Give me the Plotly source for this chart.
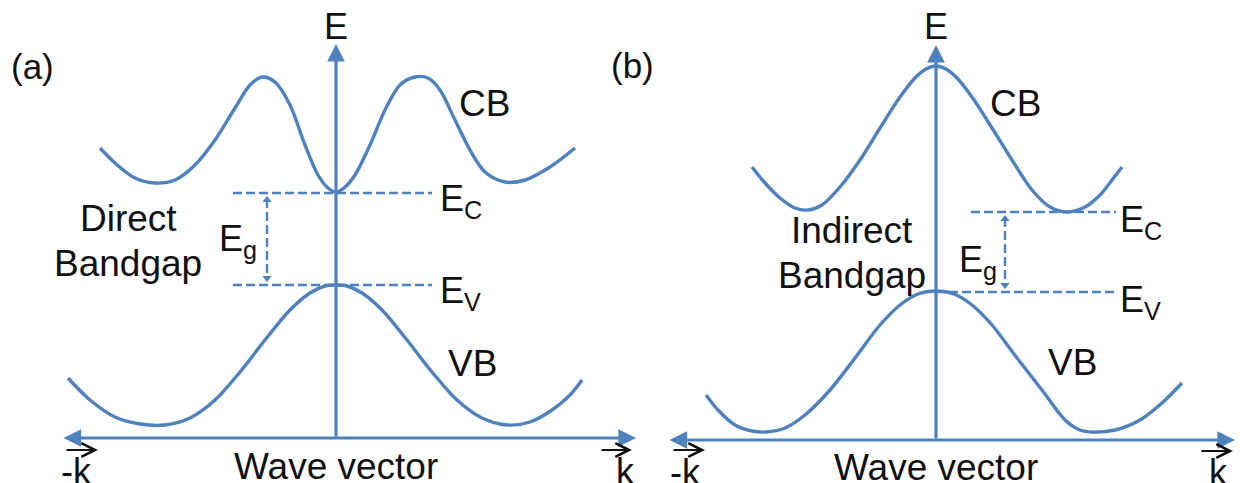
import plotly.graph_objects as go

BLUE = "#4F81BD"
TXT = "#111111"
FONT = "Liberation Sans, Arial, sans-serif"

# ---- Panel (a): direct bandgap (k relative to E axis, E relative to k axis) ----
cb_a_k = [-236, -221, -201, -181, -161, -141, -121, -101, -86, -74, -61, -46, -31, -18, -8, 0,
          8, 19, 34, 49, 64, 79, 92, 104, 119, 134, 149, 169, 189, 214, 239]
cb_a_E = [290, 275, 260, 255, 258, 273, 298, 330, 353, 361, 356, 333, 293, 263, 250, 246,
          250, 263, 293, 328, 353, 361, 360, 348, 318, 288, 266, 256, 258, 271, 290]
vb_a_k = [-268, -246, -221, -196, -171, -146, -121, -96, -71, -46, -26, -11, 0,
          11, 26, 46, 71, 96, 121, 146, 171, 194, 216, 234, 246]
vb_a_E = [60, 38, 21, 14, 13, 20, 38, 66, 98, 128, 145, 152, 153,
          152, 145, 128, 98, 66, 38, 20, 13, 16, 28, 43, 58]
ec_a = 245
ev_a = 153
ec_a_span = [-103, 96]
ev_a_span = [-103, 96]
eg_a_k = -69

# ---- Panel (b): indirect bandgap ----
cb_b_k = [-184, -171, -156, -141, -128, -114, -96, -76, -56, -36, -21, -10, 0,
          10, 21, 36, 56, 76, 96, 114, 131, 149, 164, 176, 186]
cb_b_E = [273, 257, 242, 232, 230, 235, 253, 280, 312, 343, 362, 371, 374,
          371, 362, 343, 312, 280, 250, 233, 228, 233, 245, 260, 273]
vb_b_k = [-230, -218, -201, -184, -170, -151, -131, -106, -81, -56, -36, -18, 0,
          18, 36, 56, 81, 106, 129, 144, 156, 179, 204, 226, 246]
vb_b_E = [45, 30, 15, 9, 8, 12, 25, 50, 82, 115, 135, 146, 149,
          146, 135, 115, 82, 50, 20, 10, 8, 10, 20, 37, 57]
ec_b = 228
ev_b = 148
ec_b_span = [35, 180]
ev_b_span = [0, 179]
eg_b_k = 69

fig = go.Figure()
DASH = "9px,4px"

def panel(xa, ya, cbk, cbE, vbk, vbE, ec, ev, ecs, evs, egk):
    for kk, ee in ((cbk, cbE), (vbk, vbE)):
        fig.add_trace(go.Scatter(x=kk, y=ee, mode="lines", xaxis=xa, yaxis=ya,
                                 line=dict(color=BLUE, width=3.4, shape="spline", smoothing=0.9)))
    fig.add_trace(go.Scatter(x=ecs, y=[ec, ec], mode="lines", xaxis=xa, yaxis=ya,
                             line=dict(color=BLUE, width=2.4, dash=DASH)))
    fig.add_trace(go.Scatter(x=evs, y=[ev, ev], mode="lines", xaxis=xa, yaxis=ya,
                             line=dict(color=BLUE, width=2.4, dash=DASH)))
    fig.add_trace(go.Scatter(x=[egk, egk], y=[ec - 6, ev + 6], mode="lines", xaxis=xa, yaxis=ya,
                             line=dict(color=BLUE, width=2.4, dash=DASH)))
    fig.add_trace(go.Scatter(x=[egk, egk], y=[ec - 7, ev + 7], mode="markers", xaxis=xa, yaxis=ya,
                             marker=dict(color=BLUE, size=8, symbol=["triangle-up", "triangle-down"])))

panel("x", "y", cb_a_k, cb_a_E, vb_a_k, vb_a_E, ec_a, ev_a, ec_a_span, ev_a_span, eg_a_k)
panel("x2", "y2", cb_b_k, cb_b_E, vb_b_k, vb_b_E, ec_b, ev_b, ec_b_span, ev_b_span, eg_b_k)

ann = []

def arrow(xr, yr, x0, y0, x1, y1, color, width, head, size, both=False):
    ann.append(dict(x=x1, y=y1, ax=x0, ay=y0, xref=xr, yref=yr, axref=xr, ayref=yr,
                    text="", showarrow=True, arrowside="end+start" if both else "end",
                    arrowhead=head, startarrowhead=head, arrowsize=size, startarrowsize=size,
                    arrowwidth=width, arrowcolor=color, standoff=0, startstandoff=0))

def label(xr, yr, x, y, text, size=37, xanchor="center", yanchor="middle"):
    ann.append(dict(x=x, y=y, xref=xr, yref=yr, text=text, showarrow=False,
                    xanchor=xanchor, yanchor=yanchor,
                    font=dict(family=FONT, size=size, color=TXT)))

# axes
arrow("x", "y", -274, 0, 300, 0, BLUE, 3.2, 2, 1.1, both=True)
arrow("x", "y", 0, 0, 0, 394, BLUE, 3.2, 2, 1.1)
arrow("x2", "y2", -268, 0, 299, 0, BLUE, 3.2, 2, 1.1, both=True)
arrow("x2", "y2", 0, 0, 0, 395, BLUE, 3.2, 2, 1.1)

# k-vector arrows
arrow("x", "y", -271, -12, -238, -12, "#111111", 1.8, 5, 1.5)
arrow("x", "y", 264, -12, 296, -12, "#111111", 1.8, 5, 1.5)
arrow("x2", "y2", -264, -10, -231, -10, "#111111", 1.8, 5, 1.5)
arrow("x2", "y2", 264, -11, 297, -11, "#111111", 1.8, 5, 1.5)

# panel a labels
label("x", "y", -304, 372, "(a)", size=35)
label("x", "y", 0, 412, "E", size=36)
label("x", "y", 148, 335, "CB")
label("x", "y", 136, 75, "VB")
label("x", "y", 102, 237, "E<sub>C</sub>", size=36, xanchor="left")
label("x", "y", 102, 145, "E<sub>V</sub>", size=36, xanchor="left")
label("x", "y", -77, 197, "E<sub>g</sub>", size=36, xanchor="right")
label("x", "y", -208, 220, "Direct")
label("x", "y", -208, 175, "Bandgap")
label("x", "y", 0, -28, "Wave vector")
label("x", "y", -260, -33, "-k", size=36)
label("x", "y", 289, -33, "k", size=36)

# panel b labels
label("x2", "y2", -304, 375, "(b)", size=35)
label("x2", "y2", 0, 414, "E", size=36)
label("x2", "y2", 79, 337, "CB")
label("x2", "y2", 136, 78, "VB")
label("x2", "y2", 182, 218, "E<sub>C</sub>", size=36, xanchor="left")
label("x2", "y2", 182, 138, "E<sub>V</sub>", size=36, xanchor="left")
label("x2", "y2", 63, 178, "E<sub>g</sub>", size=36, xanchor="right")
label("x2", "y2", -84, 210, "Indirect")
label("x2", "y2", -84, 165, "Bandgap")
label("x2", "y2", 0, -27, "Wave vector")
label("x2", "y2", -251, -32, "-k", size=36)
label("x2", "y2", 282, -32, "k", size=36)

hidden = dict(visible=False, showgrid=False, zeroline=False, fixedrange=True)
fig.update_layout(
    width=1243, height=483,
    margin=dict(l=0, r=0, t=0, b=0),
    paper_bgcolor="white", plot_bgcolor="white",
    showlegend=False,
    xaxis=dict(range=[-336, 907], domain=[0, 1], **hidden),
    yaxis=dict(range=[-45, 438], domain=[0, 1], **hidden),
    xaxis2=dict(range=[-936, 307], domain=[0, 1], overlaying="x", anchor="y2", **hidden),
    yaxis2=dict(range=[-43, 440], domain=[0, 1], overlaying="y", anchor="x2", **hidden),
    annotations=ann,
)

fig.write_html("out.html", config={"displayModeBar": False},
               post_script="document.body.style.margin='0';document.body.style.overflow='hidden';")
